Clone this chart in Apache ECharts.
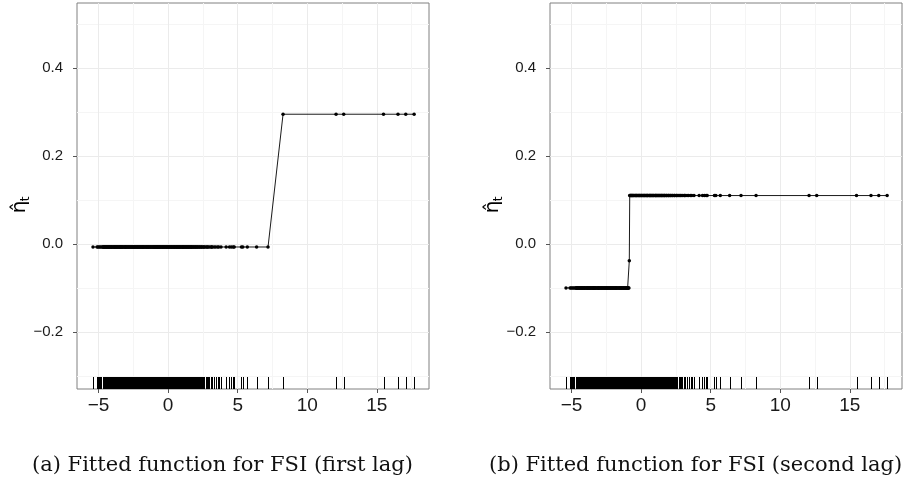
<!DOCTYPE html>
<html>
<head>
<meta charset="utf-8">
<script src="https://cdn.jsdelivr.net/npm/echarts@6/dist/echarts.min.js"></script>
<style>
  html, body { margin: 0; padding: 0; background: #fff; }
  #chart { width: 903px; height: 483px; }
</style>
</head>
<body>
<div id="chart"></div>
<script>
const fsiValues = [
  -5.4, -5.11, -5.04, -4.96, -4.88, -4.8,
  -4.71, -4.68, -4.65, -4.62, -4.58, -4.55, -4.51, -4.47, -4.44, -4.41,
  -4.38, -4.33, -4.3, -4.27, -4.23, -4.2, -4.16, -4.12, -4.09, -4.06,
  -4.03, -3.98, -3.94, -3.9, -3.88, -3.85, -3.82, -3.79, -3.75, -3.72,
  -3.69, -3.66, -3.61, -3.58, -3.55, -3.51, -3.47, -3.45, -3.42, -3.39,
  -3.36, -3.33, -3.3, -3.27, -3.24, -3.19, -3.15, -3.11, -3.09, -3.06,
  -3.03, -3.0, -2.96, -2.93, -2.88, -2.85, -2.82, -2.78, -2.75, -2.7,
  -2.67, -2.64, -2.6, -2.57, -2.52, -2.49, -2.46, -2.43, -2.4, -2.36,
  -2.33, -2.28, -2.25, -2.21, -2.18, -2.15, -2.1, -2.07, -2.03, -2.0,
  -1.97, -1.92, -1.89, -1.85, -1.82, -1.79, -1.76, -1.73, -1.68, -1.64,
  -1.6, -1.57, -1.55, -1.49, -1.46, -1.43, -1.4, -1.36, -1.31, -1.28,
  -1.25, -1.21, -1.18, -1.12, -1.09, -1.07, -1.03, -1.0, -0.97, -0.94,
  -0.91, -0.88, -0.85, -0.82, -0.79, -0.77, -0.73, -0.7, -0.67, -0.64,
  -0.61, -0.58, -0.55, -0.51, -0.46, -0.43, -0.4, -0.36, -0.33, -0.3,
  -0.27, -0.22, -0.19, -0.15, -0.12, -0.09, -0.04, -0.01, 0.03, 0.06,
  0.09, 0.14, 0.17, 0.21, 0.24, 0.27, 0.32, 0.35, 0.39, 0.42, 0.45,
  0.48, 0.51, 0.57, 0.6, 0.63, 0.66, 0.69, 0.73, 0.76, 0.81, 0.84,
  0.87, 0.91, 0.94, 1.0, 1.03, 1.05, 1.09, 1.12, 1.15, 1.18, 1.24,
  1.27, 1.3, 1.34, 1.37, 1.42, 1.45, 1.48, 1.52, 1.55, 1.61, 1.64,
  1.67, 1.7, 1.73, 1.8, 1.83, 1.86, 1.93, 1.96, 1.99, 2.06, 2.09,
  2.13, 2.2, 2.24, 2.28, 2.36, 2.4, 2.43, 2.52, 2.56, 2.6, 2.69,
  2.77, 2.82, 2.88, 2.97, 3.08, 3.13, 3.17, 3.3, 3.41, 3.55, 3.64,
  3.8, 4.17, 4.41, 4.55, 4.68, 4.75, 5.27, 5.37, 5.69, 6.36, 7.18, 8.26,
  12.07, 12.62, 15.48, 16.52, 17.08, 17.68
];

// fitted step levels: [x upper bound, fitted value]
const fitLevelsA = [[7.5, -0.007], [Infinity, 0.295]];
const fitLevelsB = [[-0.86, -0.1], [-0.84, -0.038], [Infinity, 0.11]];

const xTicks = [-5, 0, 5, 10, 15];
const xMinorTicks = [-2.5, 2.5, 7.5, 12.5, 17.5];
const yTicks = [-0.2, 0, 0.2, 0.4];
const yMinorTicks = [-0.3, -0.1, 0.1, 0.3, 0.5];
const xRange = [-6.55, 18.75];
const yRange = [-0.33, 0.548];

const captions = [
  '(a) Fitted function for FSI (first lag)',
  '(b) Fitted function for FSI (second lag)'
];

const MINUS = '\u2212';
const sans = 'Liberation Sans, Arial, Helvetica, sans-serif';

function fitPoints(levels) {
  return fsiValues.slice().sort((a, b) => a - b)
    .map(x => [x, levels.find(l => x < l[0])[1]]);
}

function xAxes(gridIndex) {
  return [{
    type: 'value', gridIndex, min: xRange[0], max: xRange[1],
    axisLine: { show: false, onZero: false },
    axisTick: { show: true, customValues: xTicks, length: 4, lineStyle: { color: '#555' } },
    axisLabel: {
      customValues: xTicks, fontSize: 19, color: '#1a1a1a', margin: 7, fontFamily: sans,
      formatter: v => (v < 0 ? MINUS : '') + Math.abs(v)
    },
    splitLine: { show: true, lineStyle: { color: '#ebebeb', width: 1 } }
  }, {
    type: 'value', gridIndex, position: 'top', min: xRange[0], max: xRange[1],
    axisLine: { show: false, onZero: false },
    axisTick: { show: false, customValues: xMinorTicks },
    axisLabel: { show: false },
    splitLine: { show: true, lineStyle: { color: '#f5f5f5', width: 1 } }
  }];
}

function yAxes(gridIndex) {
  return [{
    type: 'value', gridIndex, min: yRange[0], max: yRange[1],
    axisLine: { show: false, onZero: false },
    axisTick: { show: true, customValues: yTicks, length: 4, lineStyle: { color: '#555' } },
    axisLabel: {
      customValues: yTicks, fontSize: 15, color: '#1a1a1a', margin: 14, fontFamily: sans,
      formatter: v => (v < 0 ? MINUS : '') + Math.abs(v).toFixed(1)
    },
    splitLine: { show: true, lineStyle: { color: '#ebebeb', width: 1 } }
  }, {
    type: 'value', gridIndex, position: 'right', min: yRange[0], max: yRange[1],
    axisLine: { show: false, onZero: false },
    axisTick: { show: false, customValues: yMinorTicks },
    axisLabel: { show: false },
    splitLine: { show: true, lineStyle: { color: '#f5f5f5', width: 1 } }
  }];
}

function fitSeries(axisIndex, levels) {
  return {
    type: 'line', xAxisIndex: axisIndex, yAxisIndex: axisIndex,
    data: fitPoints(levels),
    symbol: 'circle', symbolSize: 3.5, showSymbol: true,
    itemStyle: { color: '#000' },
    lineStyle: { color: '#000', width: 0.9 },
    silent: true, z: 3
  };
}

function rugSeries(axisIndex) {
  return {
    type: 'custom', xAxisIndex: axisIndex, yAxisIndex: axisIndex,
    data: fsiValues.map(v => [v, yRange[0]]),
    renderItem(params, api) {
      const p = api.coord([api.value(0), api.value(1)]);
      // snap to pixel centres so each tick is a crisp 1px line
      const px = Math.round(p[0]) + 0.5;
      return {
        type: 'line',
        shape: { x1: px, y1: p[1], x2: px, y2: p[1] - 12 },
        style: { stroke: '#000', lineWidth: 1 }
      };
    },
    silent: true, z: 2
  };
}

function yTitle(x, y) {
  return {
    type: 'group', x, y, rotation: Math.PI / 2,
    children: [
      { type: 'text', x: 0, y: 0,
        style: { text: '\u03b7\u0302', font: '20px DejaVu Sans', fill: '#000', align: 'center', verticalAlign: 'middle' } },
      { type: 'text', x: 8, y: 6,
        style: { text: 't', font: '12px DejaVu Sans', fill: '#000', align: 'center', verticalAlign: 'middle' } }
    ]
  };
}

function caption(x, text) {
  return {
    type: 'text', x, y: 466,
    style: { text, font: '21px DejaVu Serif', fill: '#111', align: 'left', verticalAlign: 'middle' }
  };
}

const chart = echarts.init(document.getElementById('chart'));
chart.setOption({
  animation: false,
  backgroundColor: '#fff',
  grid: [
    { left: 77, top: 3, width: 352, height: 386, show: true, borderColor: '#808080', borderWidth: 1, backgroundColor: '#fff' },
    { left: 550, top: 3, width: 352, height: 386, show: true, borderColor: '#808080', borderWidth: 1, backgroundColor: '#fff' }
  ],
  xAxis: [...xAxes(0), ...xAxes(1)],
  yAxis: [...yAxes(0), ...yAxes(1)],
  series: [
    fitSeries(0, fitLevelsA),
    rugSeries(0),
    fitSeries(2, fitLevelsB),
    rugSeries(2)
  ],
  graphic: [
    yTitle(20, 207),
    yTitle(493, 207),
    caption(32, captions[0]),
    caption(489, captions[1])
  ]
});
</script>
</body>
</html>
